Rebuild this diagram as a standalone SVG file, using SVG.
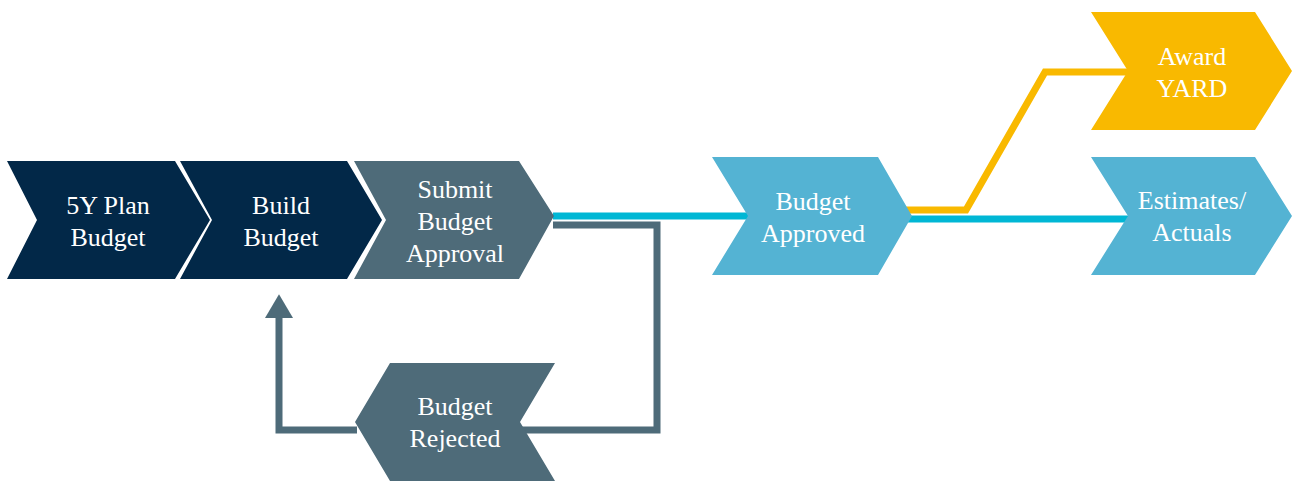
<svg xmlns="http://www.w3.org/2000/svg" width="1294" height="482" viewBox="0 0 1294 482">
<style>
.navy{fill:#022848}
.slate{fill:#4E6B79}
.sky{fill:#54B3D3}
.gold{fill:#F9B900}
text{font-family:'Liberation Serif','Times New Roman',serif;font-size:26px;fill:#ffffff;text-anchor:middle}
.ln{fill:none;stroke-linejoin:miter;stroke-linecap:butt}
</style>
<defs>
<marker id="ah" markerWidth="4" markerHeight="4" refX="0" refY="2" orient="auto" markerUnits="strokeWidth">
<path d="M0,0 L3.4,2 L0,4 Z" fill="#4E6B79"/>
</marker>
</defs>
<rect width="1294" height="482" fill="#ffffff"/>
<g id="connectors">
<path class="ln" d="M553,216 H752" stroke="#00B7D5" stroke-width="7"/>
<path class="ln" d="M553,225 H657 V430 H520" stroke="#4E6B79" stroke-width="7"/>
<path class="ln" d="M357,430 H279 V318" stroke="#4E6B79" stroke-width="7" marker-end="url(#ah)"/>
<path class="ln" d="M906,210 H966 L1045,72 H1128" stroke="#F9B900" stroke-width="7"/>
<path class="ln" d="M895,219 H1136" stroke="#00B7D5" stroke-width="7"/>
</g>
<g id="n-5y">
<path class="navy" d="M7,161 H175 L210,220 L175,279 H7 L37,220 Z"/>
<text x="108" y="214">5Y Plan</text>
<text x="108" y="246">Budget</text>
</g>
<g id="n-build">
<path class="navy" d="M180,161 H347 L382,220 L347,279 H180 L212,220 Z"/>
<text x="281" y="214">Build</text>
<text x="281" y="246">Budget</text>
</g>
<g id="n-submit">
<path class="slate" d="M354,161 H519 L554,216 L519,279 H354 L386,220 Z"/>
<text x="455" y="198">Submit</text>
<text x="455" y="230">Budget</text>
<text x="455" y="262">Approval</text>
</g>
<g id="n-approved">
<path class="sky" d="M712,157 H878 L912,216 L878,275 H712 L748,216 Z"/>
<text x="813" y="210">Budget</text>
<text x="813" y="242">Approved</text>
</g>
<g id="n-award">
<path class="gold" d="M1091,12 H1255 L1292,71 L1255,130 H1091 L1128,71 Z"/>
<text x="1192" y="65">Award</text>
<text x="1192" y="97">YARD</text>
</g>
<g id="n-estimates">
<path class="sky" d="M1091,157 H1255 L1292,216 L1255,275 H1091 L1128,216 Z"/>
<text x="1192" y="209">Estimates/</text>
<text x="1192" y="241">Actuals</text>
</g>
<g id="n-rejected">
<path class="slate" d="M390,363 H555 L520,422 L555,481 H390 L355,422 Z"/>
<text x="455" y="415">Budget</text>
<text x="455" y="447">Rejected</text>
</g>
</svg>
